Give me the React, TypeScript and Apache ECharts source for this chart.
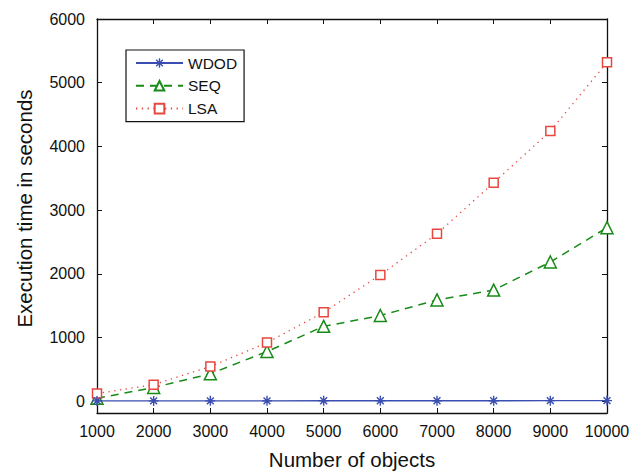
import React, { useEffect, useRef } from "react";
import * as echarts from "echarts";

const xValues = [1000, 2000, 3000, 4000, 5000, 6000, 7000, 8000, 9000, 10000];
const wdod = [5, 5, 6, 6, 7, 7, 8, 8, 9, 10];
const seq = [45, 215, 430, 780, 1175, 1345, 1590, 1745, 2185, 2725];
const lsa = [120, 260, 545, 920, 1395, 1983, 2628, 3430, 4240, 5320];
const yTicks = [0, 1000, 2000, 3000, 4000, 5000, 6000];
const seriesNames = ["WDOD", "SEQ", "LSA"];

const FONT = "'Liberation Sans', Arial, Helvetica, sans-serif";
const BLUE = "#3a4db0";
const GREEN = "#178a17";
const RED = "#e8473f";

const ASTERISK =
  "path://M8.6,0 L11.4,0 L11.4,20 L8.6,20 Z M0,8.6 L20,8.6 L20,11.4 L0,11.4 Z M2.1,4.1 L4.1,2.1 L17.9,15.9 L15.9,17.9 Z M4.1,17.9 L2.1,15.9 L15.9,2.1 L17.9,4.1 Z";

const plain = (v: number) => String(v);

export default function App() {
  const ref = useRef<HTMLDivElement>(null);
  useEffect(() => {
    document.body.style.margin = "0";
    const chart = echarts.init(ref.current!, null, { renderer: "svg" });
    const toPairs = (arr: number[]) => xValues.map((x, i) => [x, arr[i]]);
    const axisCommon = {
      axisLine: { show: true, onZero: false, lineStyle: { color: "#111", width: 1.3 } },
      splitLine: { show: false },
    };
    chart.setOption({
      animation: false,
      backgroundColor: "#fff",
      textStyle: { fontFamily: FONT },
      grid: { left: 97, right: 37, top: 19, bottom: 56, containLabel: false },
      legend: {
        left: 126,
        top: 50,
        orient: "vertical",
        data: seriesNames,
        itemWidth: 47,
        itemHeight: 12,
        itemGap: 6.8,
        padding: [5, 7, 5, 9],
        borderColor: "#111",
        borderWidth: 1.2,
        backgroundColor: "#fff",
        textStyle: { fontFamily: FONT, fontSize: 15.5, color: "#111" },
      },
      xAxis: [
        {
          type: "value",
          min: 1000,
          max: 10000,
          interval: 1000,
          position: "bottom",
          ...axisCommon,
          axisTick: { inside: true, length: 5, lineStyle: { color: "#111" } },
          axisLabel: { fontFamily: FONT, fontSize: 16, color: "#111", margin: 10, formatter: plain },
          name: "Number of objects",
          nameLocation: "middle",
          nameGap: 36,
          nameTextStyle: { fontFamily: FONT, fontSize: 20.5, color: "#111" },
        },
        {
          type: "value",
          min: 1000,
          max: 10000,
          interval: 1000,
          position: "top",
          ...axisCommon,
          axisTick: { inside: true, length: 5, lineStyle: { color: "#111" } },
          axisLabel: { show: false },
        },
      ],
      yAxis: [
        {
          type: "value",
          min: -185,
          max: 6000,
          position: "left",
          ...axisCommon,
          axisTick: { inside: true, length: 5, customValues: yTicks, lineStyle: { color: "#111" } },
          axisLabel: {
            fontFamily: FONT,
            fontSize: 16,
            color: "#111",
            margin: 12,
            customValues: yTicks,
            formatter: plain,
          },
          name: "Execution time in seconds",
          nameLocation: "middle",
          nameGap: 62,
          nameTextStyle: { fontFamily: FONT, fontSize: 20.5, color: "#111", padding: [0, 0, 0, 15] },
        },
        {
          type: "value",
          min: -185,
          max: 6000,
          position: "right",
          ...axisCommon,
          axisTick: { inside: true, length: 5, customValues: yTicks, lineStyle: { color: "#111" } },
          axisLabel: { show: false, customValues: yTicks },
        },
      ],
      series: [
        {
          name: "WDOD",
          type: "line",
          data: toPairs(wdod),
          symbol: ASTERISK,
          symbolSize: 10,
          itemStyle: { color: BLUE },
          lineStyle: { color: BLUE, width: 1.4, type: "solid" },
          z: 3,
        },
        {
          name: "SEQ",
          type: "line",
          data: toPairs(seq),
          symbol: "triangle",
          symbolSize: 12,
          itemStyle: { color: "#fff", borderColor: GREEN, borderWidth: 1.5 },
          lineStyle: { color: GREEN, width: 1.5, type: [8, 6] },
          z: 2,
        },
        {
          name: "LSA",
          type: "line",
          data: toPairs(lsa),
          symbol: "rect",
          symbolSize: 9,
          itemStyle: { color: "#fff", borderColor: RED, borderWidth: 1.5 },
          lineStyle: { color: RED, width: 1.3, type: [1.3, 4.5] },
          z: 2,
        },
      ],
    });
    return () => chart.dispose();
  }, []);
  return <div ref={ref} style={{ width: 644, height: 475 }} />;
}
